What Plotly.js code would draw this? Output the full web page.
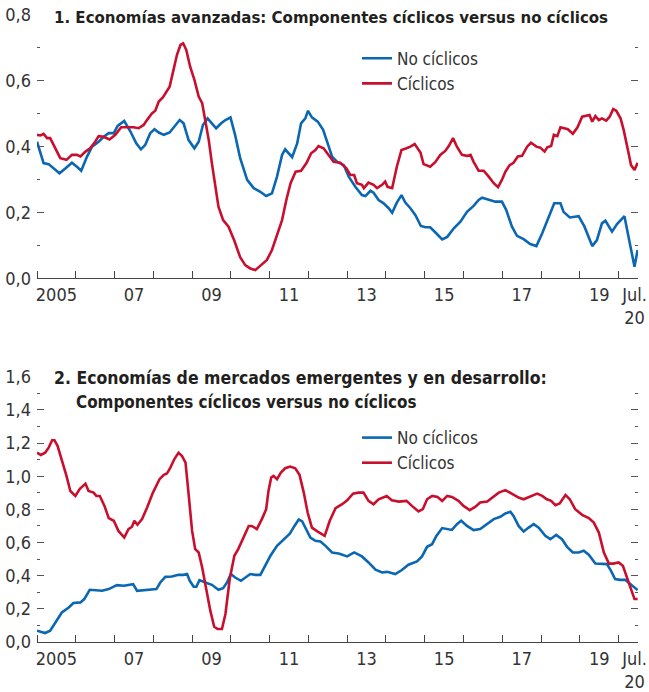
<!DOCTYPE html>
<html>
<head>
<meta charset="utf-8">
<script src="https://cdn.plot.ly/plotly-3.0.1.min.js"></script>
<style>html,body{margin:0;padding:0;background:#fff;}#chart{width:649px;height:692px;}</style>
</head>
<body>
<div id="chart"></div>
<script>
// ---------- DATA ----------
const seriesNames = ["No cíclicos", "Cíclicos"];
const panelTitles = [
  "1. Economías avanzadas: Componentes cíclicos versus no cíclicos",
  "2. Economías de mercados emergentes y en desarrollo:",
  "Componentes cíclicos versus no cíclicos"
];
const yearTickVals = [2005,2006,2007,2008,2009,2010,2011,2012,2013,2014,2015,2016,2017,2018,2019,2020];
const labelTickVals = [2005.5,2007.5,2009.5,2011.5,2013.5,2015.5,2017.5,2019.5,2020.41];
const labelTickText = ["2005","07","09","11","13","15","17","19","Jul.<br>20"];

// Panel 1: advanced economies
const advNoCycX = [2005.00,2005.17,2005.30,2005.43,2005.58,2005.73,2005.90,2006.03,2006.14,2006.29,2006.42,2006.59,2006.72,2006.85,2006.98,2007.08,2007.25,2007.41,2007.56,2007.68,2007.79,2007.92,2008.03,2008.14,2008.27,2008.42,2008.52,2008.68,2008.78,2008.91,2009.06,2009.17,2009.28,2009.40,2009.51,2009.62,2009.75,2009.86,2009.99,2010.11,2010.24,2010.42,2010.59,2010.76,2010.91,2011.06,2011.19,2011.32,2011.40,2011.58,2011.71,2011.81,2011.92,2011.99,2012.09,2012.24,2012.38,2012.48,2012.61,2012.74,2012.91,2013.04,2013.21,2013.38,2013.47,2013.60,2013.68,2013.81,2013.94,2014.07,2014.16,2014.28,2014.40,2014.50,2014.63,2014.76,2014.90,2015.02,2015.14,2015.27,2015.45,2015.58,2015.75,2015.92,2016.09,2016.26,2016.39,2016.48,2016.65,2016.82,2016.99,2017.10,2017.25,2017.38,2017.55,2017.72,2017.88,2018.03,2018.20,2018.34,2018.50,2018.58,2018.74,2018.97,2019.12,2019.32,2019.44,2019.57,2019.66,2019.83,2019.96,2020.15,2020.29,2020.41,2020.49];
const advNoCycY = [0.415,0.350,0.347,0.334,0.319,0.334,0.351,0.339,0.327,0.370,0.400,0.415,0.430,0.441,0.441,0.463,0.478,0.446,0.410,0.392,0.405,0.441,0.453,0.443,0.436,0.443,0.459,0.481,0.471,0.420,0.395,0.415,0.466,0.486,0.471,0.456,0.471,0.481,0.489,0.435,0.365,0.299,0.274,0.263,0.250,0.258,0.309,0.375,0.392,0.368,0.410,0.471,0.486,0.509,0.489,0.476,0.451,0.415,0.370,0.354,0.344,0.309,0.278,0.253,0.250,0.266,0.260,0.238,0.228,0.213,0.199,0.230,0.253,0.230,0.213,0.192,0.159,0.155,0.155,0.140,0.118,0.126,0.152,0.172,0.202,0.220,0.238,0.245,0.238,0.233,0.233,0.208,0.157,0.129,0.119,0.104,0.098,0.137,0.187,0.228,0.228,0.202,0.185,0.189,0.157,0.098,0.116,0.167,0.175,0.142,0.165,0.189,0.106,0.035,0.086];
const advCycX = [2005.00,2005.09,2005.17,2005.26,2005.34,2005.45,2005.52,2005.60,2005.76,2005.90,2006.03,2006.12,2006.25,2006.37,2006.50,2006.59,2006.72,2006.87,2007.02,2007.17,2007.32,2007.49,2007.62,2007.75,2007.85,2007.97,2008.05,2008.14,2008.25,2008.35,2008.42,2008.51,2008.61,2008.70,2008.77,2008.85,2008.95,2009.06,2009.17,2009.26,2009.34,2009.43,2009.51,2009.60,2009.68,2009.80,2009.94,2010.09,2010.24,2010.37,2010.50,2010.63,2010.78,2010.93,2011.06,2011.19,2011.32,2011.43,2011.54,2011.67,2011.81,2011.95,2012.07,2012.18,2012.26,2012.39,2012.52,2012.65,2012.82,2012.98,2013.08,2013.18,2013.25,2013.38,2013.43,2013.55,2013.68,2013.77,2013.90,2013.98,2014.04,2014.16,2014.28,2014.40,2014.53,2014.63,2014.74,2014.89,2014.97,2015.14,2015.27,2015.40,2015.53,2015.62,2015.73,2015.83,2015.96,2016.09,2016.18,2016.26,2016.39,2016.52,2016.65,2016.78,2016.89,2016.99,2017.08,2017.19,2017.29,2017.40,2017.51,2017.64,2017.74,2017.88,2017.98,2018.09,2018.16,2018.26,2018.33,2018.42,2018.50,2018.58,2018.69,2018.82,2018.94,2019.06,2019.17,2019.25,2019.32,2019.40,2019.49,2019.57,2019.68,2019.77,2019.86,2019.94,2020.05,2020.13,2020.24,2020.32,2020.41,2020.49];
const advCycY = [0.436,0.434,0.439,0.426,0.426,0.402,0.385,0.365,0.360,0.375,0.375,0.370,0.385,0.395,0.415,0.432,0.430,0.422,0.436,0.459,0.459,0.459,0.456,0.466,0.483,0.502,0.509,0.537,0.550,0.570,0.582,0.628,0.679,0.709,0.714,0.694,0.643,0.603,0.552,0.532,0.481,0.420,0.350,0.278,0.218,0.177,0.157,0.114,0.064,0.040,0.030,0.025,0.040,0.056,0.086,0.132,0.177,0.238,0.289,0.324,0.327,0.350,0.380,0.390,0.402,0.395,0.375,0.354,0.351,0.334,0.314,0.314,0.289,0.284,0.274,0.291,0.284,0.274,0.284,0.294,0.278,0.274,0.339,0.390,0.395,0.400,0.408,0.382,0.347,0.339,0.353,0.375,0.387,0.402,0.426,0.400,0.375,0.372,0.375,0.354,0.327,0.327,0.309,0.289,0.277,0.299,0.324,0.344,0.351,0.370,0.372,0.400,0.412,0.400,0.397,0.385,0.398,0.402,0.436,0.432,0.459,0.456,0.453,0.439,0.459,0.491,0.493,0.496,0.476,0.493,0.481,0.486,0.479,0.491,0.514,0.509,0.486,0.451,0.390,0.344,0.329,0.351];

// Panel 2: emerging market and developing economies
const emNoCycX = [2005.00,2005.13,2005.21,2005.34,2005.47,2005.64,2005.82,2005.94,2006.12,2006.22,2006.36,2006.50,2006.68,2006.85,2007.06,2007.24,2007.39,2007.48,2007.58,2007.75,2007.92,2008.08,2008.18,2008.31,2008.48,2008.65,2008.78,2008.87,2008.94,2009.04,2009.11,2009.19,2009.34,2009.51,2009.68,2009.80,2009.90,2010.00,2010.11,2010.26,2010.50,2010.63,2010.76,2010.89,2011.02,2011.19,2011.36,2011.52,2011.64,2011.75,2011.84,2011.95,2012.05,2012.18,2012.31,2012.44,2012.61,2012.78,2013.00,2013.18,2013.38,2013.55,2013.73,2013.90,2014.03,2014.24,2014.41,2014.58,2014.80,2014.93,2015.06,2015.19,2015.30,2015.45,2015.58,2015.70,2015.83,2015.94,2016.09,2016.26,2016.43,2016.61,2016.78,2016.95,2017.08,2017.21,2017.29,2017.42,2017.55,2017.68,2017.81,2017.94,2018.11,2018.24,2018.39,2018.54,2018.67,2018.82,2018.97,2019.10,2019.23,2019.40,2019.57,2019.70,2019.80,2019.91,2020.04,2020.17,2020.30,2020.49];
const emNoCycY = [0.068,0.058,0.054,0.068,0.118,0.178,0.208,0.235,0.239,0.259,0.315,0.313,0.309,0.319,0.343,0.339,0.345,0.349,0.309,0.313,0.319,0.319,0.359,0.393,0.395,0.405,0.405,0.410,0.369,0.333,0.333,0.373,0.359,0.345,0.315,0.325,0.359,0.410,0.389,0.369,0.410,0.405,0.405,0.460,0.520,0.580,0.620,0.654,0.700,0.739,0.727,0.681,0.630,0.610,0.606,0.580,0.540,0.534,0.516,0.540,0.516,0.480,0.436,0.419,0.423,0.410,0.434,0.466,0.486,0.516,0.574,0.590,0.640,0.687,0.681,0.676,0.711,0.731,0.700,0.675,0.681,0.711,0.741,0.755,0.775,0.785,0.761,0.700,0.666,0.690,0.711,0.690,0.640,0.620,0.646,0.620,0.574,0.540,0.540,0.550,0.526,0.473,0.470,0.470,0.430,0.380,0.375,0.375,0.350,0.313];
const emCycX = [2005.00,2005.10,2005.21,2005.30,2005.39,2005.45,2005.53,2005.64,2005.76,2005.86,2005.99,2006.10,2006.25,2006.33,2006.46,2006.53,2006.62,2006.74,2006.85,2006.98,2007.10,2007.25,2007.36,2007.45,2007.51,2007.59,2007.71,2007.84,2007.99,2008.16,2008.27,2008.35,2008.44,2008.54,2008.65,2008.74,2008.83,2008.91,2009.00,2009.08,2009.17,2009.26,2009.37,2009.47,2009.57,2009.66,2009.77,2009.86,2009.97,2010.09,2010.19,2010.33,2010.46,2010.54,2010.67,2010.80,2010.91,2010.97,2011.04,2011.10,2011.19,2011.29,2011.40,2011.53,2011.66,2011.77,2011.88,2011.98,2012.09,2012.24,2012.42,2012.55,2012.70,2012.87,2013.00,2013.15,2013.29,2013.42,2013.55,2013.68,2013.81,2014.02,2014.15,2014.33,2014.53,2014.67,2014.84,2014.95,2015.06,2015.19,2015.33,2015.45,2015.58,2015.70,2015.87,2016.00,2016.16,2016.30,2016.43,2016.61,2016.78,2016.91,2017.08,2017.25,2017.42,2017.55,2017.71,2017.90,2018.03,2018.15,2018.26,2018.37,2018.48,2018.63,2018.74,2018.88,2019.06,2019.23,2019.36,2019.49,2019.62,2019.75,2019.86,2020.00,2020.11,2020.23,2020.35,2020.41,2020.49];
const emCycY = [1.142,1.128,1.142,1.172,1.217,1.217,1.183,1.102,1.002,0.911,0.881,0.922,0.955,0.911,0.901,0.881,0.881,0.821,0.747,0.731,0.670,0.630,0.681,0.695,0.731,0.707,0.741,0.811,0.901,0.982,1.008,1.016,1.052,1.102,1.142,1.122,1.082,0.892,0.670,0.560,0.540,0.449,0.309,0.189,0.092,0.078,0.078,0.169,0.380,0.520,0.560,0.630,0.700,0.700,0.681,0.741,0.801,0.911,0.992,1.002,0.982,1.022,1.048,1.058,1.048,1.008,0.901,0.781,0.690,0.666,0.640,0.731,0.807,0.831,0.855,0.895,0.901,0.901,0.851,0.831,0.861,0.881,0.855,0.847,0.851,0.821,0.787,0.801,0.861,0.881,0.875,0.851,0.881,0.875,0.851,0.821,0.795,0.815,0.841,0.847,0.875,0.901,0.916,0.895,0.871,0.861,0.875,0.895,0.881,0.861,0.851,0.825,0.835,0.887,0.861,0.801,0.767,0.747,0.720,0.660,0.540,0.473,0.473,0.480,0.460,0.380,0.299,0.259,0.259];

// ---------- STYLE ----------
const BLUE = "#0b67b2";
const RED = "#c8102e";
const FONT = "Liberation Sans Narrow, DejaVu Sans Condensed, Arial Narrow, sans-serif";
const TXT = "#333333";

function line(x, y, name, color, xa, ya, legend) {
  return {x: x, y: y, name: name, type: "scatter", mode: "lines",
    line: {color: color, width: 2.6}, xaxis: xa, yaxis: ya, legend: legend,
    hoverinfo: "skip"};
}

const traces = [
  line(advNoCycX, advNoCycY, seriesNames[0], BLUE, "x", "y", "legend"),
  line(advCycX, advCycY, seriesNames[1], RED, "x", "y", "legend"),
  line(emNoCycX, emNoCycY, seriesNames[0], BLUE, "x2", "y2", "legend2"),
  line(emCycX, emCycY, seriesNames[1], RED, "x2", "y2", "legend2")
];

function xAxis(anchor) {
  return {
    anchor: anchor, range: [2005, 2020.5], domain: [0, 1],
    showgrid: false, zeroline: false,
    showline: true, linecolor: "#444", linewidth: 1,
    tickmode: "array", tickvals: labelTickVals, ticktext: labelTickText,
    ticks: "", ticklabeloverflow: "allow",
    tickfont: {family: FONT, size: 18, color: TXT},
    minor: {tickmode: "array", tickvals: yearTickVals, ticks: "inside", ticklen: 7, tickcolor: "#444", tickwidth: 1, showgrid: false}
  };
}
function yAxis(anchor, domain, range, dtick) {
  return {
    anchor: anchor, domain: domain, range: range,
    showgrid: false, zeroline: false, showline: false,
    tickmode: "linear", tick0: 0, dtick: dtick, tickformat: ".1f",
    ticks: "inside", ticklen: 7, tickcolor: "#555", tickwidth: 1, mirror: "ticks",
    ticklabelstandoff: 5,
    tickfont: {family: FONT, size: 18, color: TXT},
    minor: {tick0: 0, dtick: dtick / 2, ticks: "inside", ticklen: 3, tickcolor: "#555", tickwidth: 1, showgrid: false}
  };
}

const legendBase = {
  font: {family: FONT, size: 17, color: TXT},
  bgcolor: "rgba(0,0,0,0)", borderwidth: 0,
  xanchor: "left", yanchor: "top", tracegroupgap: 0, itemwidth: 30
};

const layout = {
  width: 649, height: 692,
  margin: {l: 37, r: 11, t: 15, b: 50},
  paper_bgcolor: "#ffffff", plot_bgcolor: "#ffffff",
  separators: ",.",
  font: {family: FONT, size: 16, color: TXT},
  showlegend: true,
  xaxis: xAxis("y"),
  yaxis: yAxis("x", [0.58, 1], [0, 0.8], 0.2),
  xaxis2: Object.assign(xAxis("y2"), {matches: "x"}),
  yaxis2: yAxis("x2", [0, 0.4231], [0, 1.6], 0.2),
  legend: Object.assign({}, legendBase, {x: 0.5324, y: 0.959}),
  legend2: Object.assign({}, legendBase, {x: 0.5324, y: 0.354}),
  annotations: [
    {text: "<b>" + panelTitles[0] + "</b>", xref: "paper", yref: "paper",
     x: 0.0255, y: 0.9965, xanchor: "left", yanchor: "middle", showarrow: false,
     font: {family: FONT, size: 16.7, color: "#231f20"}},
    {text: "<b>" + panelTitles[1] + "</b>", xref: "paper", yref: "paper",
     x: 0.0255, y: 0.4215, xanchor: "left", yanchor: "middle", showarrow: false,
     font: {family: FONT, size: 17.5, color: "#231f20"}},
    {text: "<b>" + panelTitles[2] + "</b>", xref: "paper", yref: "paper",
     x: 0.0622, y: 0.382, xanchor: "left", yanchor: "middle", showarrow: false,
     font: {family: FONT, size: 16.9, color: "#231f20"}}
  ]
};

Plotly.newPlot("chart", traces, layout, {staticPlot: true, displayModeBar: false});
</script>
</body>
</html>
